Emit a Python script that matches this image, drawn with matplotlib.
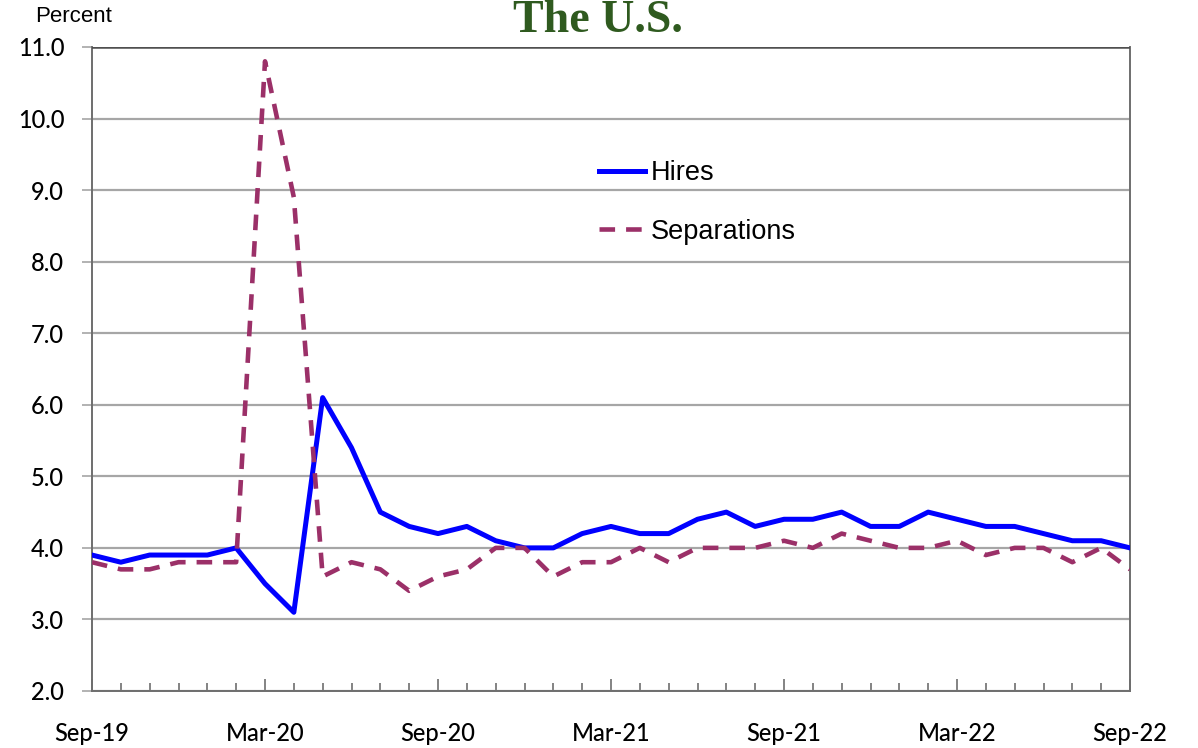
import matplotlib as mpl

mpl.use("Agg")
import matplotlib.pyplot as plt
from matplotlib.ticker import MultipleLocator

# monthly rates, Sep-19 .. Sep-22
months = ["Sep-19", "Oct-19", "Nov-19", "Dec-19", "Jan-20", "Feb-20",
          "Mar-20", "Apr-20", "May-20", "Jun-20", "Jul-20", "Aug-20",
          "Sep-20", "Oct-20", "Nov-20", "Dec-20", "Jan-21", "Feb-21",
          "Mar-21", "Apr-21", "May-21", "Jun-21", "Jul-21", "Aug-21",
          "Sep-21", "Oct-21", "Nov-21", "Dec-21", "Jan-22", "Feb-22",
          "Mar-22", "Apr-22", "May-22", "Jun-22", "Jul-22", "Aug-22",
          "Sep-22"]
hires = [3.9, 3.8, 3.9, 3.9, 3.9, 4.0, 3.5, 3.1, 6.1, 5.4, 4.5, 4.3,
         4.2, 4.3, 4.1, 4.0, 4.0, 4.2, 4.3, 4.2, 4.2, 4.4, 4.5, 4.3,
         4.4, 4.4, 4.5, 4.3, 4.3, 4.5, 4.4, 4.3, 4.3, 4.2, 4.1, 4.1,
         4.0]
separations = [3.8, 3.7, 3.7, 3.8, 3.8, 3.8, 10.8, 8.9, 3.6, 3.8, 3.7, 3.4,
               3.6, 3.7, 4.0, 4.0, 3.6, 3.8, 3.8, 4.0, 3.8, 4.0, 4.0, 4.0,
               4.1, 4.0, 4.2, 4.1, 4.0, 4.0, 4.1, 3.9, 4.0, 4.0, 3.8, 4.0,
               3.7]
yticks = [2.0, 3.0, 4.0, 5.0, 6.0, 7.0, 8.0, 9.0, 10.0, 11.0]

BLUE = "#0000ff"
PLUM = "#9b3068"
GRID = "#a6a6a6"
SPINE = "#6e6e6e"
GREEN = "#2f5a1f"

fig = plt.figure(figsize=(11.98, 7.48), dpi=100)
ax = fig.add_axes([92 / 1198, 1 - 691 / 748, (1130 - 92) / 1198, (691 - 47) / 748])

x = list(range(len(months)))
ax.plot(x, hires, color=BLUE, lw=3.6, label="Hires", zorder=3)
ax.plot(x, separations, color=PLUM, lw=3.3, dashes=(3.4, 2.4),
        label="Separations", zorder=3)

ax.set_xlim(0, len(months) - 1)
ax.set_ylim(yticks[0], yticks[-1])
ax.set_yticks(yticks)
ax.set_yticklabels([f"{v:.1f}" for v in yticks])
ax.set_xticks(x[::6])
ax.set_xticklabels(months[::6])
ax.xaxis.set_minor_locator(MultipleLocator(1))

ax.grid(axis="y", color=GRID, lw=1.6, zorder=0)
for s in ax.spines.values():
    s.set_color(SPINE)
    s.set_linewidth(1.4)
ax.spines["top"].set_visible(False)
ax.axhline(yticks[-1], color="#505050", lw=1.8, zorder=4)

ax.tick_params(axis="y", direction="out", length=7, width=1.2, color=GRID,
               labelsize=17, pad=13)
ax.tick_params(axis="x", which="major", direction="in", length=9, width=1.2,
               color=SPINE, labelsize=17, pad=22)
ax.tick_params(axis="x", which="minor", direction="in", length=6, width=1.2,
               color=SPINE)
for lab in ax.get_xticklabels() + ax.get_yticklabels():
    lab.set_family(["Lato", "DejaVu Sans"])
    lab.set_fontweight("medium")

ax.legend(loc="upper left", bbox_to_anchor=(0.465, 0.862), frameon=False,
          prop={"family": "Liberation Sans", "size": 19.5},
          handlelength=1.7, handletextpad=0.2, labelspacing=1.2)

fig.text(74 / 1198, 1 - 17 / 748, "Percent", ha="center", va="center",
         fontsize=16, family="Liberation Sans")
fig.text(598 / 1198, 1 - 32 / 748, "The U.S.", ha="center", va="baseline",
         fontsize=33, fontweight="bold", family="Liberation Serif", color=GREEN)

fig.savefig("out.png", dpi=100, facecolor="white")
